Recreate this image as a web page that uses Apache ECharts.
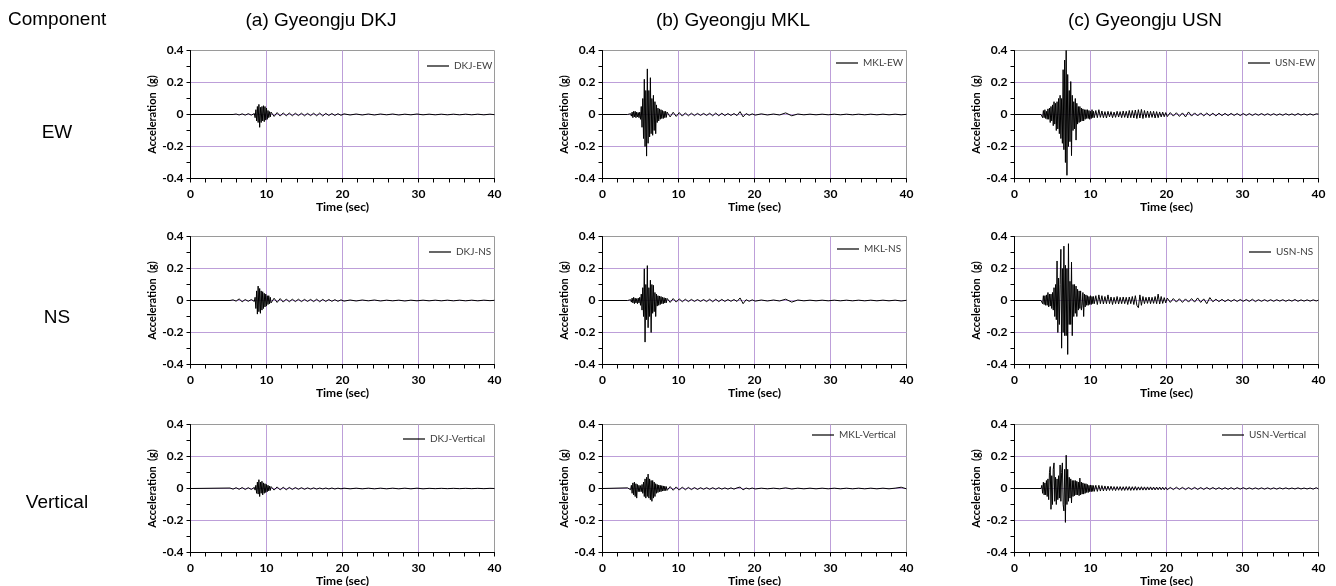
<!DOCTYPE html>
<html>
<head>
<meta charset="utf-8">
<title>Gyeongju accelerograms</title>
<script src="https://cdn.jsdelivr.net/npm/echarts@6/dist/echarts.min.js"></script>
<style>
  html, body { margin: 0; padding: 0; background: #fff; }
  #main { width: 1336px; height: 586px; }
</style>
</head>
<body>
<div id="main"></div>
<script>
// sample times (sec), one list per station
const timeDKJ = [0, 5.2, 5.6, 6.0, 6.4, 6.8, 7.2, 7.6, 8.0, 8.4,
  8.5, 8.6, 8.7, 8.8, 8.9, 9.0, 9.1, 9.2, 9.3, 9.4, 9.5, 9.6, 9.7, 9.8, 9.9, 10.0, 10.1, 10.2, 10.3, 10.4, 10.5, 10.6,
  11.0, 11.4, 11.8, 12.2, 12.6, 13.0, 13.4, 13.8, 14.2, 14.6, 15.0, 15.4, 15.8, 16.2, 16.6, 17.0, 17.4, 17.8, 18.2, 18.6, 19.0, 19.4, 19.8, 20.2,
  21.0, 21.8, 22.6, 23.4, 24.2, 25.0, 25.8, 26.6, 27.4, 28.2, 29.0, 29.8, 30.6, 31.4, 32.2, 33.0, 33.8, 34.6, 35.4, 36.2, 37.0, 37.8, 38.6, 39.4, 40.0];

const timeMKL = [0, 3.3, 3.7,
  3.8, 3.9, 4.0, 4.1, 4.2, 4.3, 4.4, 4.5, 4.6, 4.7, 4.8, 4.9, 5.0, 5.1, 5.2, 5.3, 5.4, 5.5, 5.6, 5.7, 5.8, 5.9,
  6.0, 6.1, 6.2, 6.3, 6.4, 6.5, 6.6, 6.7, 6.8, 6.9, 7.0, 7.1, 7.2, 7.3, 7.4, 7.5, 7.6, 7.7, 7.8, 7.9, 8.0, 8.1, 8.2, 8.3, 8.4, 8.5,
  8.9, 9.3, 9.7, 10.1, 10.5, 10.9, 11.3, 11.7, 12.1, 12.5, 12.9, 13.3, 13.7, 14.1, 14.5, 14.9, 15.3, 15.7, 16.1, 16.5, 16.9, 17.3, 17.7, 18.1, 18.5, 18.9, 19.3, 19.7, 20.1,
  20.9, 21.7, 22.5, 23.3, 24.1, 24.9, 25.7, 26.5, 27.3, 28.1, 28.9, 29.7, 30.5, 31.3, 32.1, 32.9, 33.7, 34.5, 35.3, 36.1, 36.9, 37.7, 38.5, 39.3, 40.0];

const timeUSN = [0, 3.5,
  3.6, 3.7, 3.8, 3.9, 4.0, 4.1, 4.2, 4.3, 4.4, 4.5,
  4.6, 4.7, 4.8, 4.9, 5.0, 5.1, 5.2, 5.3, 5.4, 5.5,
  5.6, 5.7, 5.8, 5.9, 6.0, 6.1, 6.2, 6.3, 6.4, 6.5,
  6.6, 6.7, 6.8, 6.9, 7.0, 7.1, 7.2, 7.3, 7.4, 7.5,
  7.6, 7.7, 7.8, 7.9, 8.0, 8.1, 8.2, 8.3, 8.4, 8.5,
  8.6, 8.7, 8.8, 8.9, 9.0, 9.1, 9.2, 9.3, 9.4, 9.5,
  9.6, 9.7, 9.8, 9.9, 10.0, 10.1, 10.2, 10.3, 10.4, 10.5,
  10.7, 10.9, 11.1, 11.3, 11.5, 11.7, 11.9, 12.1, 12.3, 12.5,
  12.7, 12.9, 13.1, 13.3, 13.5, 13.7, 13.9, 14.1, 14.3, 14.5,
  14.7, 14.9, 15.1, 15.3, 15.5, 15.7, 15.9, 16.1, 16.3, 16.5,
  16.7, 16.9, 17.1, 17.3, 17.5, 17.7, 17.9, 18.1, 18.3, 18.5,
  18.7, 18.9, 19.1, 19.3, 19.5, 19.7, 19.9, 20.1,
  20.5, 20.9, 21.3, 21.7, 22.1, 22.5, 22.9, 23.3, 23.7, 24.1,
  24.5, 24.9, 25.3, 25.7, 26.1, 26.5, 26.9, 27.3, 27.7, 28.1,
  28.5, 28.9, 29.3, 29.7, 30.1, 30.5, 30.9, 31.3, 31.7, 32.1,
  32.5, 32.9, 33.3, 33.7, 34.1, 34.5, 34.9, 35.3, 35.7, 36.1,
  36.5, 36.9, 37.3, 37.7, 38.1, 38.5, 38.9, 39.3, 39.7, 40.0];

// acceleration (g)
const dkjEW = [0, 0, 0, 0.003, -0.003, 0.004, -0.004, 0.005, -0.004, 0.006,
  -0.02, 0.03, -0.04, 0.05, -0.05, 0.063, -0.08, 0.045, -0.05, 0.05, -0.04, 0.055, -0.045, 0.05, -0.035, 0.04, -0.03, 0.025, -0.02, 0.018, -0.015, 0.015,
  -0.012, 0.012, -0.01, 0.01, -0.008, 0.009, -0.008, 0.008, -0.007, 0.008, -0.008, 0.007, -0.007, 0.008, -0.008, 0.009, -0.009, 0.007, -0.006, 0.006, -0.006, 0.005, -0.005, 0.004,
  -0.003, 0.003, -0.003, 0.003, -0.003, 0.003, -0.002, 0.003, -0.003, 0.002, -0.002, 0.003, -0.002, 0.002, -0.002, 0.002, -0.002, 0.002, -0.002, 0.002, -0.002, 0.002, -0.002, 0.002, -0.001];
const dkjNS = [0, 0, 0.004, -0.004, 0.01, -0.008, 0.006, -0.005, 0.006, -0.006,
  0.02, -0.05, 0.06, -0.085, 0.09, -0.07, 0.075, -0.08, 0.06, -0.06, 0.055, -0.05, 0.045, -0.04, 0.04, -0.035, 0.03, -0.025, 0.03, -0.02, 0.02, -0.015,
  0.014, -0.012, 0.012, -0.01, 0.009, -0.008, 0.008, -0.007, 0.008, -0.007, 0.007, -0.006, 0.007, -0.007, 0.008, -0.008, 0.007, -0.006, 0.006, -0.005, 0.005, -0.005, 0.004, -0.004,
  0.003, -0.003, 0.003, -0.002, 0.003, -0.003, 0.002, -0.002, 0.002, -0.003, 0.002, -0.002, 0.002, -0.002, 0.002, -0.002, 0.002, -0.002, 0.002, -0.002, 0.002, -0.002, 0.002, -0.001, 0.001];
const dkjV = [0, 0.003, -0.004, 0.005, -0.005, 0.006, -0.006, 0.005, -0.006, 0.007,
  -0.01, 0.02, -0.03, 0.04, -0.035, 0.055, -0.05, 0.04, -0.03, 0.045, -0.04, 0.035, -0.03, 0.03, -0.025, 0.025, -0.02, 0.02, -0.015, 0.015, -0.012, 0.012,
  -0.01, 0.01, -0.009, 0.008, -0.008, 0.007, -0.006, 0.006, -0.005, 0.005, -0.005, 0.004, -0.004, 0.004, -0.004, 0.003, -0.003, 0.003, -0.003, 0.003, -0.003, 0.002, -0.002, 0.002,
  -0.002, 0.002, -0.002, 0.002, -0.002, 0.002, -0.002, 0.002, -0.002, 0.002, -0.002, 0.002, -0.002, 0.001, -0.001, 0.001, -0.001, 0.001, -0.001, 0.001, -0.001, 0.001, -0.001, 0.001, 0];

const mklEW = [0, 0, 0.005,
  -0.01, 0.015, -0.02, 0.02, -0.015, 0.02, -0.02, 0.015, -0.015, 0.012,
  -0.02, 0.015, -0.03, 0.05, -0.08, 0.1, -0.15, 0.22, -0.2, 0.15,
  -0.26, 0.285, -0.18, 0.15, -0.14, 0.23, -0.12, 0.1, -0.13, 0.12,
  -0.1, 0.08, -0.12, 0.06, -0.05, 0.04, -0.04, 0.035, -0.03, 0.03,
  -0.025, 0.025, -0.025, 0.02, -0.02, 0.02, -0.018, 0.015,
  -0.015, 0.014, -0.012, 0.012, -0.01, 0.01, -0.008, 0.008, -0.007, 0.007, -0.006, 0.007, -0.006, 0.008, -0.008, 0.009, -0.008, 0.008, -0.007, 0.006, -0.006, 0.006, -0.007, 0.018, -0.015, 0.006, -0.005, 0.004, -0.004,
  0.004, -0.003, 0.003, -0.003, 0.01, -0.008, 0.003, -0.002, 0.002, -0.002, 0.002, -0.002, 0.002, -0.002, 0.002, -0.002, 0.002, -0.002, 0.002, -0.002, 0.002, -0.002, 0.002, -0.002, 0.001];
const mklNS = [0, 0, 0.005,
  -0.01, 0.015, -0.015, 0.02, -0.02, 0.015, -0.015, 0.012, -0.02, 0.015,
  -0.015, 0.02, -0.03, 0.04, -0.06, 0.08, -0.1, 0.198, -0.26, 0.1,
  -0.12, 0.218, -0.17, 0.08, -0.1, 0.127, -0.2, 0.1, -0.08, 0.095,
  -0.07, 0.05, -0.1, 0.04, -0.035, 0.03, -0.03, 0.028, -0.025, 0.025,
  -0.02, 0.02, -0.02, 0.018, -0.016, 0.015, -0.014, 0.013,
  -0.012, 0.012, -0.01, 0.01, -0.008, 0.008, -0.007, 0.007, -0.006, 0.006, -0.006, 0.006, -0.007, 0.008, -0.008, 0.008, -0.007, 0.007, -0.006, 0.006, -0.005, 0.006, -0.006, 0.016, -0.02, 0.005, -0.005, 0.004, -0.004,
  0.003, -0.003, 0.003, -0.003, 0.008, -0.01, 0.003, -0.002, 0.002, -0.002, 0.002, -0.002, 0.002, -0.002, 0.002, -0.002, 0.002, -0.002, 0.002, -0.002, 0.002, -0.002, 0.002, -0.003, 0.001];
const mklV = [0, 0.004, -0.008,
  0.02, -0.03, 0.035, -0.04, 0.04, -0.05, 0.03, -0.06, 0.025, -0.02,
  0.02, -0.02, 0.018, -0.02, 0.025, -0.03, 0.04, -0.05, 0.06, -0.06,
  0.07, -0.05, 0.09, -0.06, 0.06, -0.07, 0.05, -0.08, 0.05, -0.06,
  0.04, -0.05, 0.03, -0.03, 0.025, -0.025, 0.022, -0.02, 0.02, -0.02,
  0.018, -0.016, 0.016, -0.015, 0.014, -0.013, 0.012, -0.012,
  0.012, -0.011, 0.01, -0.01, 0.009, -0.008, 0.007, -0.007, 0.006, -0.006, 0.005, -0.005, 0.005, -0.005, 0.005, -0.005, 0.005, -0.004, 0.004, -0.004, 0.004, -0.004, 0.004, 0.009, -0.008, 0.003, -0.003, 0.003, -0.003,
  0.002, -0.002, 0.002, -0.002, 0.004, -0.003, 0.002, -0.002, 0.002, -0.002, 0.002, -0.002, 0.002, -0.002, 0.002, -0.002, 0.002, -0.002, 0.002, -0.002, 0.002, -0.002, 0.002, 0.008, -0.002];

const usnEW = [0, 0,
  0.01, -0.02, 0.025, -0.02, 0.03, -0.025, 0.02, -0.03, 0.035, -0.03,
  0.04, -0.05, 0.05, -0.04, 0.06, -0.07, 0.08, -0.06, 0.07, -0.1,
  0.08, -0.09, 0.1, -0.12, 0.12, -0.15, 0.1, -0.18, 0.28, -0.22,
  0.34, -0.3, 0.4, -0.38, 0.25, -0.2, 0.15, -0.17, 0.206, -0.257,
  0.12, -0.1, 0.08, -0.09, 0.1, -0.16, 0.07, -0.06, 0.05, -0.05,
  0.05, -0.045, 0.04, -0.04, 0.035, -0.04, 0.03, -0.03, 0.03, -0.025,
  0.03, -0.025, 0.025, -0.03, 0.02, -0.025, 0.03, -0.02, 0.02, -0.02,
  0.025, -0.02, 0.03, -0.018, 0.022, -0.02, 0.018, -0.022, 0.02, -0.015,
  0.018, -0.02, 0.015, -0.018, 0.02, -0.016, 0.018, -0.02, 0.022, -0.018,
  0.02, -0.022, 0.025, -0.02, 0.025, -0.022, 0.028, -0.025, 0.03, -0.022,
  0.032, -0.025, 0.025, -0.02, 0.022, -0.02, 0.02, -0.018, 0.02, -0.022,
  0.018, -0.02, 0.016, -0.015, 0.015, -0.014, 0.012, -0.013,
  0.012, -0.01, 0.011, -0.012, 0.01, -0.015, 0.016, -0.01, 0.01, -0.009,
  0.01, -0.009, 0.009, -0.008, 0.008, -0.009, 0.008, -0.007, 0.007, -0.007,
  0.007, -0.006, 0.006, -0.007, 0.006, -0.006, 0.006, -0.006, 0.005, -0.005,
  0.006, -0.005, 0.005, -0.005, 0.005, -0.005, 0.004, -0.005, 0.005, -0.004,
  0.004, -0.005, 0.006, -0.004, 0.004, -0.004, 0.004, -0.004, 0.004, 0.002];
const usnNS = [0, 0,
  0.01, -0.02, 0.03, -0.025, 0.03, -0.03, 0.035, -0.03, 0.05, -0.04,
  0.04, -0.035, 0.04, -0.05, 0.05, -0.06, 0.08, -0.1, 0.1, -0.12,
  0.247, -0.2, 0.14, -0.15, 0.1, 0.32, -0.298, 0.2, -0.2, 0.34,
  -0.22, 0.22, -0.22, 0.2, -0.337, 0.355, -0.15, 0.12, -0.15, 0.24,
  -0.22, 0.1, -0.1, 0.1, -0.08, 0.09, -0.1, 0.07, -0.06, 0.06,
  -0.05, 0.06, -0.06, -0.03, 0.05, -0.1, 0.04, -0.04, 0.035, -0.03,
  0.03, -0.03, 0.025, -0.025, 0.03, -0.025, 0.025, -0.02, 0.025, -0.02,
  0.03, -0.025, 0.035, -0.02, 0.03, -0.022, 0.025, -0.02, 0.035, -0.02,
  0.022, -0.025, 0.02, -0.02, 0.025, -0.022, 0.02, -0.02, 0.022, -0.02,
  0.02, -0.025, 0.022, -0.02, 0.025, -0.025, 0.03, -0.03, -0.045, 0.035,
  -0.03, 0.025, -0.02, 0.02, -0.018, 0.022, -0.02, 0.02, -0.018, 0.025,
  -0.02, 0.04, -0.022, 0.025, -0.018, 0.018, -0.015, 0.015,
  -0.012, 0.012, -0.01, 0.011, -0.012, 0.01, -0.01, 0.012, -0.01, 0.016,
  -0.012, 0.01, -0.02, 0.018, -0.008, 0.008, -0.007, 0.007, -0.007, 0.006,
  -0.006, 0.006, -0.006, 0.006, -0.005, 0.006, -0.006, 0.008, -0.007, 0.005,
  -0.005, 0.005, -0.005, 0.005, -0.005, 0.005, -0.004, 0.005, -0.005, 0.004,
  -0.004, 0.006, -0.005, 0.004, -0.004, 0.004, -0.004, 0.004, -0.003, 0.002];
const usnV = [0, 0,
  0.02, -0.03, 0.04, -0.04, 0.035, -0.04, 0.05, -0.05, 0.06, -0.07,
  0.1, 0.137, -0.13, 0.08, -0.1, 0.12, 0.16, -0.08, 0.07, -0.1,
  0.06, -0.07, 0.08, -0.06, 0.147, -0.08, 0.1, 0.16, -0.1, -0.14,
  0.12, -0.212, 0.208, -0.1, 0.12, -0.08, 0.07, -0.06, 0.06, -0.09,
  0.05, -0.05, 0.05, -0.045, 0.05, -0.04, 0.045, -0.04, 0.04, -0.045,
  0.065, -0.04, 0.04, -0.035, 0.035, -0.035, 0.03, -0.03, 0.03, -0.025,
  0.025, -0.025, 0.02, -0.02, 0.022, -0.02, 0.02, -0.018, 0.018, -0.018,
  0.02, -0.018, 0.02, -0.016, 0.018, -0.015, 0.016, -0.014, 0.015, -0.012,
  0.014, -0.012, 0.012, -0.013, 0.012, -0.011, 0.012, -0.012, 0.011, -0.012,
  0.012, -0.011, 0.012, -0.012, 0.011, -0.011, 0.012, -0.011, 0.01, -0.01,
  0.011, -0.01, 0.01, -0.01, 0.01, -0.009, 0.01, -0.009, 0.009, -0.009,
  0.009, -0.008, 0.009, -0.008, 0.008, -0.008, 0.007, -0.008,
  0.007, -0.007, 0.008, -0.006, 0.007, -0.007, 0.006, -0.006, 0.007, -0.006,
  0.006, -0.006, 0.006, -0.005, 0.006, -0.005, 0.005, -0.005, 0.005, -0.005,
  0.005, -0.005, 0.005, -0.004, 0.005, -0.004, 0.004, -0.004, 0.004, -0.004,
  0.004, -0.004, 0.004, -0.004, 0.004, -0.004, 0.004, -0.003, 0.004, -0.003,
  0.003, -0.003, 0.004, -0.003, 0.003, -0.003, 0.003, -0.004, 0.005, -0.003];

const colTitles = ['(a) Gyeongju DKJ', '(b) Gyeongju MKL', '(c) Gyeongju USN'];
const rowLabels = ['EW', 'NS', 'Vertical'];
const traceNames = [
  ['DKJ-EW', 'MKL-EW', 'USN-EW'],
  ['DKJ-NS', 'MKL-NS', 'USN-NS'],
  ['DKJ-Vertical', 'MKL-Vertical', 'USN-Vertical']
];
const traceTimes = [timeDKJ, timeMKL, timeUSN];
const traceValues = [
  [dkjEW, mklEW, usnEW],
  [dkjNS, mklNS, usnNS],
  [dkjV, mklV, usnV]
];

// layout: grid lines land on even pixel columns/rows so they stay sharp
const gridLeft = [190.5, 602.5, 1014.5];
const gridWidth = 304;
const gridTop = [50.5, 236.5, 424.5];
const gridHeight = 128;
const legendPos = [
  [[427, 61], [836, 58], [1248, 58]],
  [[429, 247], [837, 244], [1249, 247]],
  [[403, 434], [812, 430], [1222, 430]]
];
const titleX = [321, 733, 1145];
const rowLabelY = [133, 318, 503];

const gridPurple = '#bd9fd9';
const tickFont = 'Lato';

const grids = [], xAxes = [], yAxes = [], series = [], legends = [], graphics = [];

for (let r = 0; r < 3; r++) {
  for (let c = 0; c < 3; c++) {
    const i = grids.length;
    const t = traceTimes[c], v = traceValues[r][c];
    if (t.length !== v.length) throw new Error(traceNames[r][c] + ' length ' + v.length + ' vs ' + t.length);
    grids.push({
      left: gridLeft[c], top: gridTop[r], width: gridWidth, height: gridHeight,
      show: true, borderColor: '#9a9a9a', borderWidth: 1, backgroundColor: 'transparent',
      containLabel: false, outerBoundsMode: 'none'
    });
    xAxes.push({
      type: 'value', gridIndex: i, min: 0, max: 40, interval: 10,
      name: 'Time (sec)', nameLocation: 'middle', nameGap: 22,
      nameTextStyle: { fontFamily: tickFont, fontWeight: 'bold', fontSize: 12, color: '#000' },
      axisLine: { show: true, onZero: false, lineStyle: { color: '#000', width: 1 } },
      axisTick: { show: true, length: 4, lineStyle: { color: '#000' } },
      minorTick: { show: true, splitNumber: 5, length: 4, lineStyle: { color: '#000' } },
      axisLabel: { fontFamily: tickFont, fontWeight: 'bold', fontSize: 12, color: '#000', margin: 10 },
      splitLine: { show: true, showMinLine: false, showMaxLine: false, lineStyle: { color: gridPurple, width: 1 } },
      minorSplitLine: { show: false }
    });
    yAxes.push({
      type: 'value', gridIndex: i, min: -0.4, max: 0.4, interval: 0.2,
      name: 'Acceleration  (g)', nameLocation: 'middle', nameGap: 27,
      nameTextStyle: { fontFamily: tickFont, fontWeight: 'bold', fontSize: 11, color: '#000' },
      axisLine: { show: true, lineStyle: { color: '#000', width: 1 } },
      axisTick: { show: true, length: 4, lineStyle: { color: '#000' } },
      minorTick: { show: true, splitNumber: 2, length: 4, lineStyle: { color: '#000' } },
      axisLabel: {
        fontFamily: tickFont, fontWeight: 'bold', fontSize: 12, color: '#000', margin: 7,
        formatter: (val) => Math.abs(val) < 1e-9 ? '0' : String(Math.round(val * 10) / 10)
      },
      splitLine: { show: true, showMinLine: false, showMaxLine: false, lineStyle: { color: gridPurple, width: 1 } },
      minorSplitLine: { show: false }
    });
    series.push({
      name: traceNames[r][c], type: 'line', xAxisIndex: i, yAxisIndex: i,
      data: t.map((tt, k) => [tt, v[k]]),
      showSymbol: false, symbol: 'none', color: '#000',
      lineStyle: { color: '#000', width: 1 }, z: 3
    });
    legends.push({
      data: [traceNames[r][c]], left: legendPos[r][c][0], top: legendPos[r][c][1],
      padding: 0, icon: 'rect', itemWidth: 22, itemHeight: 1.2, selectedMode: false,
      itemStyle: { color: '#000' },
      textStyle: { fontFamily: tickFont, fontSize: 10, color: '#404040' }
    });
  }
}

graphics.push({
  type: 'text', left: 8, top: 10,
  style: { text: 'Component', font: '19px "Liberation Sans", Arial', fill: '#000' }
});
colTitles.forEach((txt, c) => graphics.push({
  type: 'text', x: titleX[c], y: 21,
  style: { text: txt, font: '19px "Liberation Sans", Arial', fill: '#000', align: 'center', verticalAlign: 'middle' }
}));
rowLabels.forEach((txt, r) => graphics.push({
  type: 'text', x: 57, y: rowLabelY[r],
  style: { text: txt, font: '19px "Liberation Sans", Arial', fill: '#000', align: 'center', verticalAlign: 'middle' }
}));

const chart = echarts.init(document.getElementById('main'), null, { renderer: 'canvas' });
chart.setOption({
  animation: false,
  backgroundColor: '#fff',
  grid: grids,
  xAxis: xAxes,
  yAxis: yAxes,
  legend: legends,
  series: series,
  graphic: graphics
});
</script>
</body>
</html>
